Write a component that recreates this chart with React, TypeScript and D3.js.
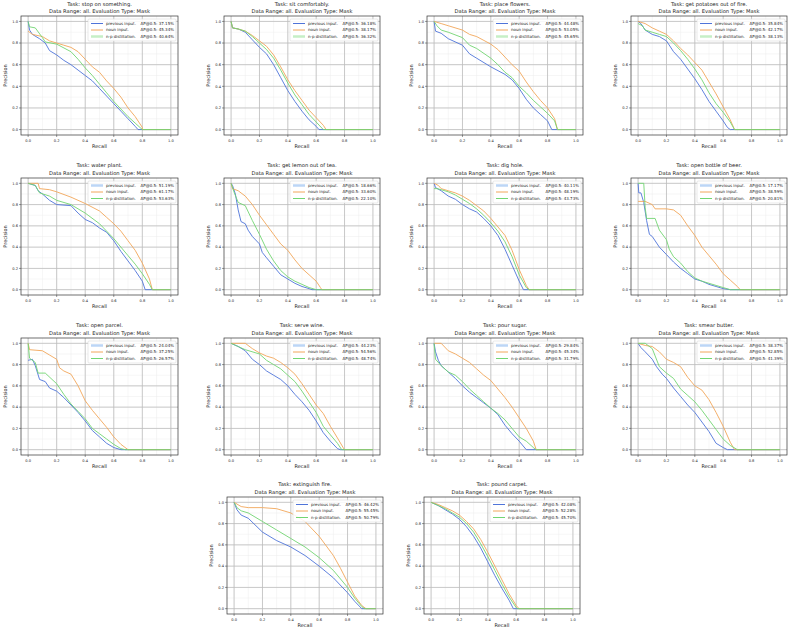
import React from 'react';
import * as d3 from 'd3';

type Pt = [number, number];

const tasks = [
  'Task: stop on something.', 'Task: sit comfortably.', 'Task: place flowers.', 'Task: get potatoes out of fire.',
  'Task: water plant.', 'Task: get lemon out of tea.', 'Task: dig hole.', 'Task: open bottle of beer.',
  'Task: open parcel.', 'Task: serve wine.', 'Task: pour sugar.', 'Task: smear butter.',
  'Task: extinguish fire.', 'Task: pound carpet.',
];
const subtitle = 'Data Range: all. Evaluation Type: Mask';
const seriesNames = ['previous input.', 'noun input.', 'n-p distillation.'];
const apPrev = ['37.15', '36.18', '44.48', '35.84', '51.19', '18.66', '40.11', '17.17', '24.04', '44.23', '29.84', '38.37', '46.42', '42.08'];
const apNoun = ['45.34', '38.17', '53.05', '42.17', '61.17', '33.60', '48.19', '38.59', '37.25', '54.56', '45.34', '52.85', '55.45', '52.28'];
const apNp = ['40.64', '36.32', '45.65', '38.13', '53.63', '22.10', '43.73', '20.81', '26.57', '48.74', '31.79', '41.39', '50.79', '45.70'];
const ticks = [0, 0.2, 0.4, 0.6, 0.8, 1.0];
const tickLabels = ['0.0', '0.2', '0.4', '0.6', '0.8', '1.0'];

const stopPrev: Pt[] = [[0,1.0],[0.01,0.92],[0.03,0.88],[0.08,0.84],[0.12,0.8],[0.15,0.73],[0.2,0.69],[0.25,0.64],[0.3,0.6],[0.35,0.55],[0.4,0.5],[0.45,0.45],[0.5,0.38],[0.55,0.31],[0.6,0.24],[0.65,0.17],[0.7,0.1],[0.75,0.03],[0.77,0]];
const stopNoun: Pt[] = [[0,0.91],[0.03,0.88],[0.1,0.86],[0.15,0.82],[0.2,0.8],[0.25,0.78],[0.3,0.76],[0.35,0.72],[0.4,0.65],[0.45,0.58],[0.5,0.53],[0.55,0.45],[0.6,0.38],[0.65,0.3],[0.7,0.2],[0.75,0.12],[0.8,0.02],[0.8,0]];
const stopNp: Pt[] = [[0,1.0],[0.01,0.95],[0.05,0.94],[0.1,0.85],[0.12,0.81],[0.2,0.79],[0.3,0.72],[0.35,0.65],[0.4,0.57],[0.45,0.5],[0.5,0.42],[0.55,0.34],[0.6,0.26],[0.65,0.19],[0.7,0.12],[0.75,0.06],[0.8,0]];

const sitPrev: Pt[] = [[0,1],[0.01,0.94],[0.05,0.93],[0.1,0.9],[0.15,0.83],[0.2,0.76],[0.25,0.7],[0.3,0.6],[0.35,0.48],[0.4,0.36],[0.45,0.26],[0.5,0.17],[0.55,0.09],[0.6,0.03],[0.62,0]];
const sitNoun: Pt[] = [[0,1],[0.01,0.94],[0.05,0.93],[0.1,0.91],[0.15,0.87],[0.2,0.82],[0.25,0.77],[0.3,0.69],[0.35,0.58],[0.4,0.46],[0.45,0.36],[0.5,0.27],[0.55,0.18],[0.6,0.11],[0.65,0.04],[0.67,0]];
const sitNp: Pt[] = [[0,1],[0.01,0.94],[0.05,0.93],[0.1,0.91],[0.15,0.86],[0.2,0.8],[0.25,0.74],[0.3,0.66],[0.35,0.55],[0.4,0.43],[0.45,0.32],[0.5,0.23],[0.55,0.14],[0.6,0.07],[0.65,0]];

const flowPrev: Pt[] = [[0,1.0],[0.01,0.91],[0.05,0.89],[0.1,0.84],[0.2,0.78],[0.25,0.7],[0.3,0.66],[0.4,0.58],[0.5,0.51],[0.55,0.46],[0.6,0.38],[0.65,0.28],[0.7,0.2],[0.75,0.14],[0.8,0.08],[0.83,0]];
const flowNoun: Pt[] = [[0,1.0],[0.05,0.98],[0.1,0.96],[0.2,0.92],[0.25,0.88],[0.3,0.86],[0.4,0.79],[0.45,0.74],[0.5,0.67],[0.55,0.6],[0.6,0.54],[0.65,0.44],[0.7,0.35],[0.75,0.27],[0.8,0.2],[0.85,0.1],[0.87,0]];
const flowNp: Pt[] = [[0,1.0],[0.02,0.96],[0.05,0.92],[0.1,0.9],[0.2,0.85],[0.25,0.78],[0.3,0.75],[0.4,0.66],[0.45,0.6],[0.5,0.53],[0.55,0.48],[0.6,0.4],[0.65,0.34],[0.7,0.27],[0.75,0.21],[0.8,0.15],[0.85,0.08],[0.87,0]];

const potPrev: Pt[] = [[0,1.0],[0.02,0.98],[0.05,0.92],[0.1,0.88],[0.15,0.86],[0.2,0.82],[0.25,0.72],[0.3,0.65],[0.35,0.56],[0.4,0.47],[0.45,0.37],[0.5,0.26],[0.55,0.17],[0.6,0.08],[0.63,0.02],[0.65,0]];
const potNoun: Pt[] = [[0,1.0],[0.05,0.98],[0.1,0.94],[0.15,0.91],[0.2,0.88],[0.25,0.82],[0.3,0.75],[0.35,0.69],[0.4,0.62],[0.45,0.55],[0.5,0.44],[0.55,0.33],[0.6,0.21],[0.65,0.09],[0.68,0]];
const potNp: Pt[] = [[0,0.98],[0.03,0.96],[0.05,0.92],[0.1,0.9],[0.15,0.88],[0.2,0.86],[0.25,0.8],[0.3,0.73],[0.35,0.65],[0.4,0.56],[0.45,0.46],[0.5,0.34],[0.55,0.24],[0.6,0.16],[0.65,0.07],[0.68,0]];

const waterPrev: Pt[] = [[0,1.0],[0.05,0.98],[0.07,0.93],[0.1,0.9],[0.15,0.84],[0.2,0.8],[0.3,0.79],[0.35,0.72],[0.4,0.66],[0.45,0.63],[0.5,0.58],[0.55,0.54],[0.6,0.46],[0.65,0.36],[0.7,0.27],[0.75,0.18],[0.8,0.08],[0.82,0]];
const waterNoun: Pt[] = [[0,1.0],[0.07,1.0],[0.08,0.95],[0.15,0.94],[0.2,0.92],[0.3,0.87],[0.4,0.81],[0.5,0.74],[0.55,0.68],[0.6,0.62],[0.65,0.55],[0.7,0.46],[0.75,0.37],[0.8,0.25],[0.85,0.1],[0.87,0]];
const waterNp: Pt[] = [[0,1.0],[0.05,0.98],[0.08,0.91],[0.15,0.88],[0.2,0.84],[0.3,0.8],[0.4,0.72],[0.5,0.62],[0.55,0.55],[0.6,0.48],[0.65,0.4],[0.7,0.32],[0.75,0.24],[0.8,0.15],[0.85,0.05],[0.87,0]];

const lemonPrev: Pt[] = [[0,1.0],[0.01,0.98],[0.03,0.9],[0.05,0.75],[0.07,0.64],[0.1,0.62],[0.12,0.56],[0.15,0.5],[0.2,0.43],[0.22,0.35],[0.25,0.3],[0.3,0.22],[0.35,0.14],[0.4,0.1],[0.45,0.06],[0.5,0.03],[0.55,0.01],[0.57,0]];
const lemonNoun: Pt[] = [[0,1.0],[0.01,0.95],[0.05,0.93],[0.07,0.91],[0.1,0.88],[0.15,0.8],[0.2,0.7],[0.25,0.61],[0.3,0.52],[0.35,0.43],[0.4,0.37],[0.45,0.28],[0.5,0.2],[0.55,0.14],[0.6,0.08],[0.63,0.02],[0.64,0]];
const lemonNp: Pt[] = [[0,1.0],[0.02,0.92],[0.05,0.82],[0.1,0.79],[0.15,0.65],[0.2,0.52],[0.25,0.38],[0.3,0.27],[0.35,0.18],[0.4,0.12],[0.45,0.08],[0.5,0.05],[0.55,0.02],[0.6,0]];

const digPrev: Pt[] = [[0,1.0],[0.01,0.96],[0.05,0.93],[0.1,0.88],[0.15,0.85],[0.2,0.8],[0.25,0.76],[0.3,0.73],[0.35,0.67],[0.4,0.6],[0.45,0.51],[0.5,0.38],[0.55,0.23],[0.6,0.08],[0.63,0]];
const digNoun: Pt[] = [[0,1.0],[0.03,0.98],[0.05,0.95],[0.1,0.93],[0.15,0.91],[0.2,0.88],[0.25,0.84],[0.3,0.79],[0.35,0.74],[0.4,0.67],[0.45,0.59],[0.5,0.51],[0.55,0.37],[0.6,0.19],[0.65,0.04],[0.67,0]];
const digNp: Pt[] = [[0,0.95],[0.02,0.95],[0.05,0.94],[0.1,0.92],[0.15,0.89],[0.2,0.85],[0.25,0.81],[0.3,0.76],[0.35,0.7],[0.4,0.63],[0.45,0.55],[0.5,0.45],[0.55,0.31],[0.6,0.14],[0.65,0.02],[0.67,0]];

const beerPrev: Pt[] = [[0,1.0],[0.005,0.91],[0.02,0.91],[0.04,0.82],[0.06,0.65],[0.08,0.52],[0.1,0.5],[0.15,0.4],[0.2,0.33],[0.25,0.26],[0.3,0.2],[0.35,0.15],[0.4,0.1],[0.45,0.08],[0.5,0.05],[0.55,0.03],[0.6,0.01],[0.65,0]];
const beerNoun: Pt[] = [[0,0.83],[0.05,0.83],[0.1,0.8],[0.12,0.76],[0.2,0.76],[0.25,0.75],[0.3,0.7],[0.35,0.6],[0.4,0.51],[0.45,0.4],[0.5,0.32],[0.55,0.24],[0.6,0.15],[0.65,0.09],[0.7,0.03],[0.72,0]];
const beerNp: Pt[] = [[0,1.0],[0.04,1.0],[0.05,0.77],[0.06,0.67],[0.12,0.67],[0.15,0.56],[0.2,0.47],[0.22,0.38],[0.25,0.31],[0.3,0.25],[0.35,0.17],[0.4,0.11],[0.45,0.08],[0.5,0.06],[0.55,0.04],[0.6,0.02],[0.65,0]];

const parcelPrev: Pt[] = [[0,0.84],[0.03,0.85],[0.05,0.79],[0.08,0.66],[0.12,0.64],[0.15,0.58],[0.2,0.55],[0.25,0.49],[0.3,0.42],[0.35,0.35],[0.4,0.27],[0.45,0.18],[0.5,0.12],[0.55,0.06],[0.6,0.02],[0.65,0]];
const parcelNoun: Pt[] = [[0,1.0],[0.01,0.94],[0.1,0.93],[0.15,0.89],[0.2,0.85],[0.22,0.77],[0.25,0.74],[0.3,0.71],[0.35,0.6],[0.4,0.46],[0.45,0.37],[0.5,0.29],[0.55,0.21],[0.6,0.12],[0.65,0.05],[0.7,0]];
const parcelNp: Pt[] = [[0,1.0],[0.01,0.86],[0.05,0.82],[0.07,0.72],[0.12,0.72],[0.2,0.62],[0.25,0.52],[0.3,0.43],[0.35,0.36],[0.4,0.29],[0.45,0.2],[0.5,0.15],[0.55,0.1],[0.6,0.05],[0.65,0.01],[0.68,0]];

const winePrev: Pt[] = [[0,1.0],[0.05,0.97],[0.1,0.93],[0.15,0.85],[0.2,0.8],[0.25,0.74],[0.3,0.7],[0.35,0.66],[0.4,0.6],[0.45,0.52],[0.5,0.45],[0.55,0.37],[0.6,0.27],[0.65,0.16],[0.7,0.08],[0.75,0.01],[0.77,0]];
const wineNoun: Pt[] = [[0,1.0],[0.1,1.0],[0.15,0.95],[0.2,0.91],[0.25,0.88],[0.3,0.86],[0.35,0.82],[0.4,0.77],[0.45,0.71],[0.5,0.62],[0.55,0.52],[0.6,0.42],[0.65,0.34],[0.7,0.22],[0.75,0.11],[0.79,0.02],[0.8,0]];
const wineNp: Pt[] = [[0,1.0],[0.05,0.97],[0.1,0.94],[0.2,0.9],[0.25,0.84],[0.3,0.8],[0.35,0.76],[0.4,0.7],[0.45,0.64],[0.5,0.55],[0.55,0.45],[0.6,0.35],[0.65,0.22],[0.7,0.14],[0.75,0.06],[0.78,0]];

const sugarPrev: Pt[] = [[0,1.0],[0.01,0.92],[0.03,0.84],[0.05,0.79],[0.1,0.73],[0.15,0.67],[0.2,0.6],[0.25,0.54],[0.3,0.49],[0.35,0.44],[0.4,0.39],[0.45,0.33],[0.5,0.23],[0.55,0.15],[0.6,0.08],[0.65,0]];
const sugarNoun: Pt[] = [[0,1.0],[0.05,1.0],[0.1,0.93],[0.15,0.9],[0.2,0.86],[0.25,0.82],[0.3,0.76],[0.35,0.7],[0.4,0.65],[0.45,0.57],[0.5,0.49],[0.55,0.4],[0.6,0.3],[0.65,0.2],[0.7,0.08],[0.72,0]];
const sugarNp: Pt[] = [[0,1.0],[0.01,0.85],[0.05,0.79],[0.1,0.73],[0.15,0.7],[0.2,0.64],[0.25,0.57],[0.3,0.51],[0.35,0.45],[0.4,0.39],[0.45,0.34],[0.5,0.28],[0.55,0.2],[0.6,0.12],[0.65,0.08],[0.7,0.02],[0.72,0]];

const butterPrev: Pt[] = [[0,1.0],[0.02,0.96],[0.05,0.92],[0.1,0.85],[0.13,0.78],[0.17,0.71],[0.2,0.67],[0.25,0.58],[0.3,0.5],[0.35,0.42],[0.4,0.35],[0.45,0.26],[0.5,0.17],[0.55,0.06],[0.6,0.02],[0.63,0]];
const butterNoun: Pt[] = [[0,1.0],[0.05,0.98],[0.1,0.97],[0.15,0.92],[0.2,0.85],[0.25,0.82],[0.3,0.78],[0.35,0.68],[0.4,0.6],[0.45,0.56],[0.5,0.47],[0.55,0.35],[0.6,0.22],[0.65,0.07],[0.68,0]];
const butterNp: Pt[] = [[0,1.0],[0.05,1.0],[0.1,0.95],[0.15,0.78],[0.2,0.72],[0.25,0.67],[0.3,0.57],[0.35,0.51],[0.4,0.45],[0.45,0.37],[0.5,0.28],[0.55,0.19],[0.6,0.1],[0.65,0.04],[0.7,0]];

const firePrev: Pt[] = [[0,1.0],[0.02,0.93],[0.05,0.88],[0.1,0.85],[0.2,0.72],[0.3,0.64],[0.4,0.58],[0.5,0.5],[0.6,0.4],[0.7,0.29],[0.8,0.15],[0.85,0.07],[0.9,0]];
const fireNoun: Pt[] = [[0,1.0],[0.05,0.96],[0.1,0.95],[0.2,0.95],[0.3,0.94],[0.4,0.9],[0.5,0.82],[0.6,0.68],[0.7,0.5],[0.75,0.38],[0.8,0.25],[0.85,0.12],[0.9,0.03],[0.93,0]];
const fireNp: Pt[] = [[0,1.0],[0.02,0.95],[0.05,0.92],[0.1,0.9],[0.2,0.82],[0.3,0.74],[0.4,0.66],[0.5,0.58],[0.6,0.48],[0.7,0.36],[0.8,0.2],[0.85,0.1],[0.9,0.02],[0.92,0]];

const carpetPrev: Pt[] = [[0,1.0],[0.05,0.97],[0.1,0.93],[0.15,0.89],[0.2,0.84],[0.25,0.77],[0.3,0.68],[0.35,0.57],[0.4,0.44],[0.45,0.31],[0.5,0.19],[0.55,0.08],[0.58,0]];
const carpetNoun: Pt[] = [[0,1.0],[0.05,0.98],[0.1,0.95],[0.15,0.92],[0.2,0.88],[0.25,0.82],[0.3,0.75],[0.35,0.65],[0.4,0.53],[0.45,0.4],[0.5,0.27],[0.55,0.14],[0.6,0.03],[0.62,0]];
const carpetNp: Pt[] = [[0,1.0],[0.05,0.97],[0.1,0.94],[0.15,0.9],[0.2,0.86],[0.25,0.8],[0.3,0.72],[0.35,0.61],[0.4,0.49],[0.45,0.36],[0.5,0.23],[0.55,0.11],[0.6,0.01],[0.61,0]];

const curves: Pt[][][] = [
  [stopPrev, stopNoun, stopNp], [sitPrev, sitNoun, sitNp], [flowPrev, flowNoun, flowNp], [potPrev, potNoun, potNp],
  [waterPrev, waterNoun, waterNp], [lemonPrev, lemonNoun, lemonNp], [digPrev, digNoun, digNp], [beerPrev, beerNoun, beerNp],
  [parcelPrev, parcelNoun, parcelNp], [winePrev, wineNoun, wineNp], [sugarPrev, sugarNoun, sugarNp], [butterPrev, butterNoun, butterNp],
  [firePrev, fireNoun, fireNp], [carpetPrev, carpetNoun, carpetNp],
];

// layout (frame boxes in pixels)
const colX = [[21, 178], [224, 380], [427, 583], [631, 787]];
const rowY = [[16, 135], [178, 295], [338, 455], [497, 614]];
const titleOff = [[10, 3], [11, 3.5], [11, 3.5], [11, 3.5]];
const row4X = [[227, 383], [424, 580]];
const lightIdx = [2, 2, 2, 2, 0, 0, 0, 0, 0, 0, 0, 0, -1, -1];

const colors = ['#4f74d9', '#f2a65a', '#72d572'];
const lightColors = ['#bcd6f6', '#f8d6b0', '#c6efc6'];
const FONT = 'DejaVu Sans, sans-serif';

function Panel({ i }: { i: number }) {
  const r = Math.floor(i / 4);
  const c = i % 4;
  const [x0, x1] = r < 3 ? colX[c] : row4X[c];
  const [y0, y1] = rowY[r];
  const x = d3.scaleLinear().domain([-0.05, 1.05]).range([x0, x1]);
  const y = d3.scaleLinear().domain([-0.05, 1.05]).range([y1, y0]);
  const line = d3.line<Pt>().x(d => x(d[0])).y(d => y(d[1]));
  const minor = d3.range(0, 1.01, 0.1);
  const cx = (x0 + x1) / 2;
  const cy = (y0 + y1) / 2;
  const lw = 88, lh = 22;
  const lx = x1 - 2 - lw, ly = y0 + 3;
  const aps = [apPrev[i], apNoun[i], apNp[i]];
  return (
    <g>
      {minor.map((t, k) => (
        <g key={'m' + k}>
          <line x1={x(t)} x2={x(t)} y1={y0} y2={y1} stroke="#ededed" strokeWidth={0.5} />
          <line x1={x0} x2={x1} y1={y(t)} y2={y(t)} stroke="#ededed" strokeWidth={0.5} />
        </g>
      ))}
      {ticks.map((t, k) => (
        <g key={'g' + k}>
          <line x1={x(t)} x2={x(t)} y1={y0} y2={y1} stroke="#bdbdbd" strokeWidth={0.8} />
          <line x1={x0} x2={x1} y1={y(t)} y2={y(t)} stroke="#bdbdbd" strokeWidth={0.8} />
        </g>
      ))}
      {curves[i].map((pts, k) => (
        <path key={'c' + k} d={line([...pts, [1.0, 0]]) || ''} fill="none" stroke={colors[k]} strokeWidth={1} strokeOpacity={0.9} />
      ))}
      <rect x={x0} y={y0} width={x1 - x0} height={y1 - y0} fill="none" stroke="#333" strokeWidth={0.7} />
      {ticks.map((t, k) => (
        <g key={'t' + k} fontFamily={FONT} fontSize={3.6} fill="#222">
          <line x1={x(t)} x2={x(t)} y1={y1} y2={y1 + 2} stroke="#333" strokeWidth={0.5} />
          <text x={x(t)} y={y1 + 6.5} textAnchor="middle">{tickLabels[k]}</text>
          <line x1={x0 - 2} x2={x0} y1={y(t)} y2={y(t)} stroke="#333" strokeWidth={0.5} />
          <text x={x0 - 3} y={y(t) + 1.3} textAnchor="end">{tickLabels[k]}</text>
        </g>
      ))}
      <text x={cx} y={y1 + 13} textAnchor="middle" fontFamily={FONT} fontSize={5} fill="#222">Recall</text>
      <text transform={`translate(${x0 - 14},${cy}) rotate(-90)`} textAnchor="middle" fontFamily={FONT} fontSize={5} fill="#222">Precision</text>
      <text x={cx} y={y0 - titleOff[r][0]} textAnchor="middle" fontFamily={FONT} fontSize={5.2} fill="#222">{tasks[i]}</text>
      <text x={cx} y={y0 - titleOff[r][1]} textAnchor="middle" fontFamily={FONT} fontSize={5.2} fill="#222">{subtitle}</text>
      <rect x={lx} y={ly} width={lw} height={lh} fill="#fff" fillOpacity={0.85} stroke="#d0d0d0" strokeWidth={0.5} rx={1} />
      {seriesNames.map((nm, k) => {
        const yy = ly + 4.5 + k * 6.5;
        const light = lightIdx[i] === k;
        return (
          <g key={'l' + k} fontFamily={FONT} fontSize={4} fill="#222">
            <line x1={lx + 3} x2={lx + 15} y1={yy} y2={yy} stroke={light ? lightColors[k] : colors[k]} strokeWidth={light ? 2.5 : 1} />
            <text x={lx + 18} y={yy + 1.4}>{nm}</text>
            <text x={lx + lw - 2} y={yy + 1.4} textAnchor="end">{`AP@0.5: ${aps[k]}%`}</text>
          </g>
        );
      })}
    </g>
  );
}

export default function App() {
  return (
    <svg width={789} height={632} style={{ position: 'absolute', left: 0, top: 0, background: '#fff' }}>
      <rect x={0} y={0} width={789} height={632} fill="#fff" />
      {tasks.map((_, i) => <Panel key={i} i={i} />)}
    </svg>
  );
}
